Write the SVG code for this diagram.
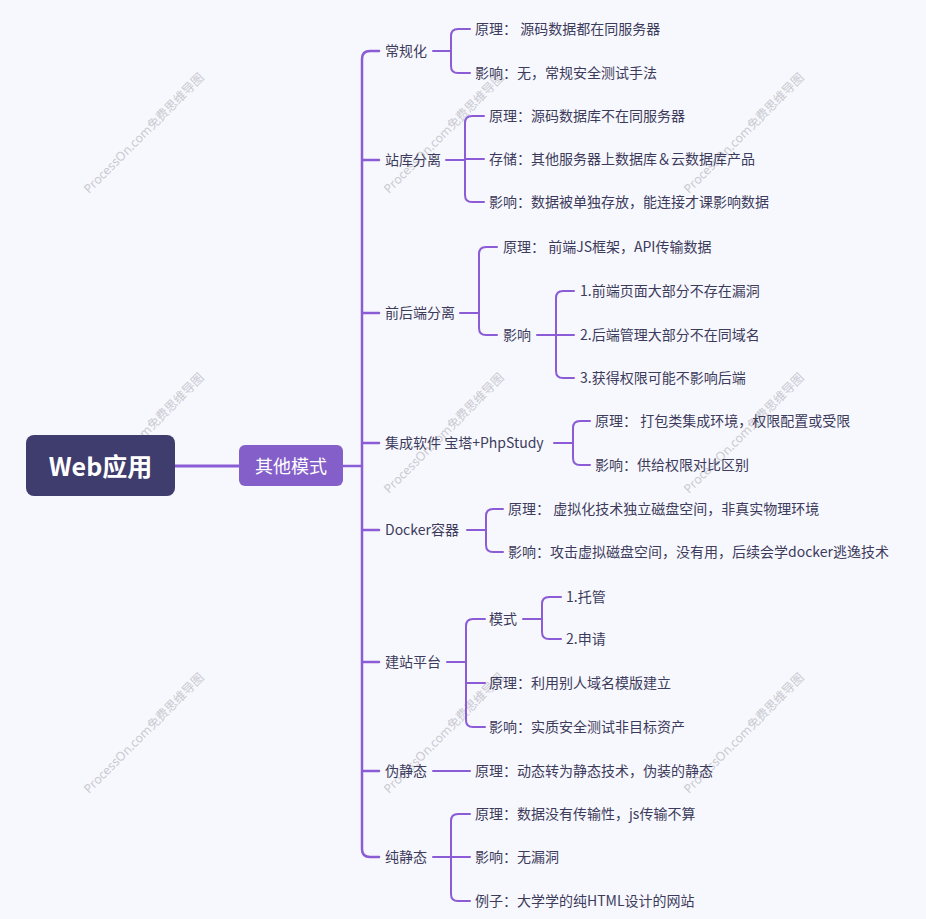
<svg xmlns="http://www.w3.org/2000/svg" width="926" height="919" viewBox="0 0 926 919">
<style>
.bg{fill:#f7f8fd}
.wm{font-family:"Noto Sans","Noto Sans CJK SC",sans-serif;font-size:12.3px;fill:#cacad2}
.t{font-family:"Noto Sans CJK SC","Noto Sans",sans-serif;font-size:14px;fill:#3d3b5c;dominant-baseline:central}
.ln{fill:none;stroke:#8b5cd6;stroke-width:2;stroke-linecap:round}
.root{fill:#3f3c6e}
.mid{fill:#845ec9}
.rt{font-family:"Noto Sans CJK SC","Noto Sans",sans-serif;font-size:25px;font-weight:bold;fill:#ffffff;text-anchor:middle;dominant-baseline:central}
.mt{font-family:"Noto Sans CJK SC","Noto Sans",sans-serif;font-size:18px;fill:#ffffff;text-anchor:middle;dominant-baseline:central}
</style>
<rect class="bg" x="0" y="0" width="926" height="919"/>
<g id="watermarks">
<text class="wm" transform="translate(89,194) rotate(-45)">ProcessOn.com免费思维导图</text>
<text class="wm" transform="translate(389,194) rotate(-45)">ProcessOn.com免费思维导图</text>
<text class="wm" transform="translate(689,194) rotate(-45)">ProcessOn.com免费思维导图</text>
<text class="wm" transform="translate(89,494) rotate(-45)">ProcessOn.com免费思维导图</text>
<text class="wm" transform="translate(389,494) rotate(-45)">ProcessOn.com免费思维导图</text>
<text class="wm" transform="translate(689,494) rotate(-45)">ProcessOn.com免费思维导图</text>
<text class="wm" transform="translate(89,794) rotate(-45)">ProcessOn.com免费思维导图</text>
<text class="wm" transform="translate(389,794) rotate(-45)">ProcessOn.com免费思维导图</text>
<text class="wm" transform="translate(689,794) rotate(-45)">ProcessOn.com免费思维导图</text>
</g>
<g id="connectors">
<path class="ln" style="stroke-width:3" d="M175 466 H240"/>
<path class="ln" style="stroke-width:2.5" d="M343 466 H362"/>
<path class="ln" style="stroke-width:2.5" d="M379 51 H370 Q362 51 362 59 V849 Q362 857 370 857 H379 M362 160 H379 M362 313 H379 M362 443 H379 M362 530 H379 M362 662 H379 M362 771 H379"/>
<path class="ln" d="M433 51 H451 M470 29 H458 Q451 29 451 36 V66 Q451 73 458 73 H470"/>
<path class="ln" d="M446 160 H465 M484 116 H472 Q465 116 465 123 V195 Q465 202 472 202 H484 M465 159 H484"/>
<path class="ln" d="M460 313 H479 M497 247 H486 Q479 247 479 254 V328 Q479 335 486 335 H497"/>
<path class="ln" d="M537 335 H556 M574 291 H563 Q556 291 556 298 V371 Q556 378 563 378 H574 M556 335 H574"/>
<path class="ln" d="M554 443 H573 M590 421 H580 Q573 421 573 428 V458 Q573 465 580 465 H590"/>
<path class="ln" d="M467 530 H486 M503 509 H493 Q486 509 486 516 V545 Q486 552 493 552 H503"/>
<path class="ln" d="M447 662 H466 M485 619 H473 Q466 619 466 626 V720 Q466 727 473 727 H485 M466 683 H485"/>
<path class="ln" d="M523 619 H542 M561 597 H549 Q542 597 542 604 V632 Q542 639 549 639 H561"/>
<path class="ln" d="M433 771 H470"/>
<path class="ln" d="M433 857 H451 M470 814 H458 Q451 814 451 821 V894 Q451 901 458 901 H470 M451 857 H470"/>
</g>
<g id="root">
<rect class="root" x="26" y="435" width="149" height="61" rx="8"/>
<text class="rt" x="100.5" y="465">Web应用</text>
</g>
<g id="other">
<rect class="mid" x="239" y="445" width="104" height="41" rx="6"/>
<text class="mt" x="291" y="465">其他模式</text>
</g>
<g id="n-changgui" transform="translate(0,-1)">
<text class="t" x="385" y="51">常规化</text>
<text class="t" x="475" y="29">原理：  源码数据都在同服务器</text>
<text class="t" x="475" y="73">影响：无，常规安全测试手法</text>
</g>
<g id="n-zhanku" transform="translate(0,-1)">
<text class="t" x="385" y="160">站库分离</text>
<text class="t" x="489" y="116">原理：源码数据库不在同服务器</text>
<text class="t" x="489" y="159">存储：其他服务器上数据库＆云数据库产品</text>
<text class="t" x="489" y="202">影响：数据被单独存放，能连接才课影响数据</text>
</g>
<g id="n-qianhou" transform="translate(0,-1)">
<text class="t" x="385" y="313">前后端分离</text>
<text class="t" x="503" y="247">原理：  前端JS框架，API传输数据</text>
<text class="t" x="503" y="335">影响</text>
<text class="t" x="580" y="291">1.前端页面大部分不存在漏洞</text>
<text class="t" x="580" y="335">2.后端管理大部分不在同域名</text>
<text class="t" x="580" y="378">3.获得权限可能不影响后端</text>
</g>
<g id="n-jicheng" transform="translate(0,-1)">
<text class="t" x="385" y="443">集成软件 宝塔+PhpStudy</text>
<text class="t" x="595" y="421">原理：  打包类集成环境，权限配置或受限</text>
<text class="t" x="595" y="465">影响：供给权限对比区别</text>
</g>
<g id="n-docker" transform="translate(0,-1)">
<text class="t" x="385" y="530">Docker容器</text>
<text class="t" x="508" y="509">原理：  虚拟化技术独立磁盘空间，非真实物理环境</text>
<text class="t" x="508" y="552">影响：攻击虚拟磁盘空间，没有用，后续会学docker逃逸技术</text>
</g>
<g id="n-jianzhan" transform="translate(0,-1)">
<text class="t" x="385" y="662">建站平台</text>
<text class="t" x="489" y="619">模式</text>
<text class="t" x="566" y="597">1.托管</text>
<text class="t" x="566" y="639">2.申请</text>
<text class="t" x="489" y="683">原理：利用别人域名模版建立</text>
<text class="t" x="489" y="727">影响：实质安全测试非目标资产</text>
</g>
<g id="n-weijingtai" transform="translate(0,-1)">
<text class="t" x="385" y="771">伪静态</text>
<text class="t" x="475" y="771">原理：动态转为静态技术，伪装的静态</text>
</g>
<g id="n-chunjingtai" transform="translate(0,-1)">
<text class="t" x="385" y="857">纯静态</text>
<text class="t" x="475" y="814">原理：数据没有传输性，js传输不算</text>
<text class="t" x="475" y="857">影响：无漏洞</text>
<text class="t" x="475" y="901">例子：大学学的纯HTML设计的网站</text>
</g>
</svg>
